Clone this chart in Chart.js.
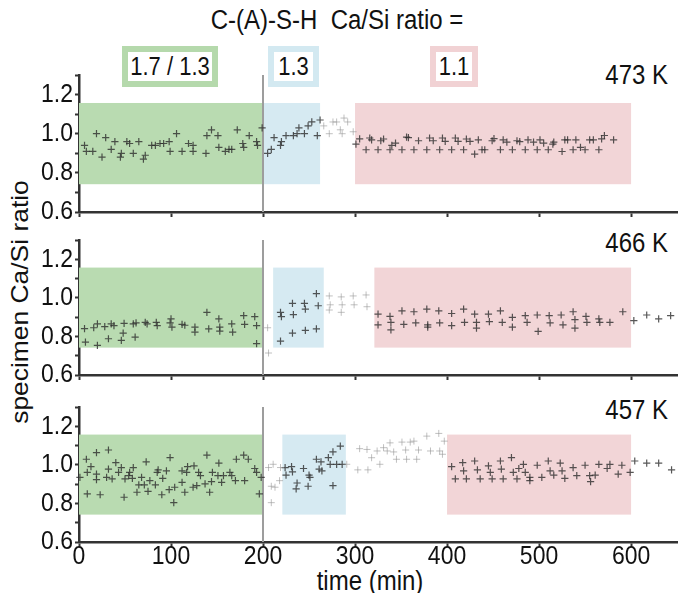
<!DOCTYPE html>
<html>
<head>
<meta charset="utf-8">
<script src="https://cdn.jsdelivr.net/npm/chart.js@4.4.1/dist/chart.umd.min.js"></script>
<style>
  body { margin: 0; background: #fff; overflow: hidden; }
  #wrap { position: relative; width: 678px; height: 593px; font-family: "Liberation Sans", Arial, sans-serif; color: #111; }
  #wrap canvas { position: absolute; left: 0; }
  .txt { position: absolute; white-space: nowrap; font-size: 24px; line-height: 1; }
  .box { position: absolute; top: 46px; height: 41px; box-sizing: border-box; border: 6px solid; background: #fff;
         display: flex; align-items: center; justify-content: center; font-size: 22px; }
  .box span { display: inline-block; transform: scaleY(1.15); }
</style>
</head>
<body>
<div id="wrap">
  <div class="txt" style="left:337px; top:20px; transform:translate(-50%,-50%) scaleY(1.15);">C-(A)-S-H&nbsp; Ca/Si ratio =</div>
  <div class="box" style="left:122px; width:96px;"><span id="box0"></span></div>
  <div class="box" style="left:268px; width:51px;"><span id="box1"></span></div>
  <div class="box" style="left:430px; width:48px;"><span id="box2"></span></div>
  <div class="txt" id="k0" style="right:10px; top:75px; transform:translateY(-50%) scaleY(1.15);"></div>
  <div class="txt" id="k1" style="right:10px; top:243px; transform:translateY(-50%) scaleY(1.15);"></div>
  <div class="txt" id="k2" style="right:10px; top:410px; transform:translateY(-50%) scaleY(1.15);"></div>
  <div class="txt" style="left:20px; top:302px; transform:translate(-50%,-50%) rotate(-90deg) scaleX(1.1);">specimen Ca/Si ratio</div>
  <div class="txt" style="left:370px; top:581px; transform:translate(-50%,-50%) scaleY(1.15);">time (min)</div>
  <canvas id="c473" width="678" height="157" style="top:65px"></canvas>
  <canvas id="c466" width="678" height="155" style="top:230px"></canvas>
  <canvas id="c457" width="678" height="175" style="top:397px"></canvas>
</div>
<script>
// phase labels and colours
const phaseNames = ["1.7 / 1.3", "1.3", "1.1"];
const phaseColors = ["#b9dbb1", "#d6eaf2", "#f2d5d7"];
const phaseBorders = ["#b5d9ac", "#d3e9f1", "#f1d2d4"];
const temps = ["473 K", "466 K", "457 K"];
const bandLow = 0.742;
const bandHigh = 1.157;
const splitTime = 200;
const xTickLabels = ["0", "100", "200", "300", "400", "500", "600"];
const yTickLabels = ["0.6", "0.8", "1.0", "1.2"];

// phase windows (min) per temperature
const start473 = [0, 200, 300];
const end473 = [200, 262, 600];
const start466 = [0, 211, 321];
const end466 = [200, 266, 600];
const start457 = [0, 221, 400];
const end457 = [200, 290, 600];

// 473 K
const t473 = [6, 8, 15, 19, 25, 29, 35, 39, 45, 46, 52, 55, 59, 65, 70, 72, 79, 83, 88, 92, 98, 99, 106, 112, 119, 124, 124, 138, 139, 144, 151, 152, 159, 163, 166, 172, 178, 179, 185, 193, 194, 199,
  205, 209, 212, 219, 220, 225, 233, 237, 239, 245, 249, 253, 259, 262,
  301, 305, 312, 316, 318, 325, 328, 331, 338, 340, 344, 351, 356, 358, 364, 369, 378, 381, 385, 392, 395, 398, 405, 409, 412, 418, 421, 425, 430, 434, 438, 441, 449, 451,
  458, 461, 465, 471, 476, 479, 485, 488, 494, 498, 501, 505, 510, 515, 516, 525, 528, 531, 537, 540, 545, 550, 555, 559, 565, 568, 571, 581];
const r473 = [0.94, 0.91, 0.91, 1.00, 0.88, 0.98, 0.92, 0.96, 0.88, 0.90, 0.96, 0.95, 0.90, 0.96, 0.87, 0.89, 0.94, 0.94, 0.95, 0.95, 0.96, 0.91, 1.00, 0.91, 0.95, 0.94, 0.91, 0.90, 0.99, 1.02, 0.99, 0.93, 0.91, 0.92, 0.92, 1.02, 0.95, 0.93, 0.99, 0.96, 0.94, 1.03,
  0.90, 0.92, 0.98, 0.94, 0.96, 0.99, 0.99, 1.00, 1.03, 1.00, 1.04, 1.06, 0.99, 1.07,
  0.947, 0.974, 0.918, 0.978, 0.969, 0.918, 0.964, 0.973, 0.918, 0.94, 0.952, 0.918, 0.983, 0.98, 0.918, 0.964, 0.918, 0.978, 0.964, 0.918, 0.978, 0.961, 0.918, 0.978, 0.961, 0.918, 0.973, 0.961, 0.896, 0.969, 0.918, 0.918, 0.964, 0.975,
  0.918, 0.969, 0.957, 0.918, 0.964, 0.96, 0.918, 0.969, 0.957, 0.918, 0.969, 0.952, 0.918, 0.947, 0.957, 0.909, 0.969, 0.969, 0.918, 0.969, 0.93, 0.918, 0.969, 0.969, 0.918, 0.974, 0.991, 0.969];
const t473Trans = [266, 272, 276, 280, 284, 286, 288, 292, 298];
const r473Trans = [1.04, 1.00, 1.06, 1.06, 1.02, 1.00, 1.08, 1.06, 1.01];

// 466 K
const t466 = [6, 7, 16, 20, 20, 28, 32, 35, 38, 46, 48, 49, 59, 61, 62, 72, 74, 84, 85, 99, 100, 101, 112, 115, 126, 126, 139, 141, 152, 153, 153, 166, 167, 179, 180, 191, 193, 193,
  219, 220, 219, 232, 233, 232, 245, 246, 246, 258, 260, 258,
  325, 325, 338, 339, 339, 351, 353, 364, 366, 378, 379, 379, 391, 392, 405, 405, 418, 419, 430, 432, 432, 445, 446, 458, 460, 471, 471, 485, 487, 498, 499, 511, 512, 524, 526, 537, 539, 539, 551, 552, 565, 566, 577, 591,
  603, 617, 630, 643];
const r466 = [0.84, 0.77, 0.845, 0.865, 0.754, 0.851, 0.788, 0.865, 0.856, 0.78, 0.817, 0.868, 0.865, 0.796, 0.87, 0.873, 0.865, 0.873, 0.856, 0.87, 0.891, 0.848, 0.862, 0.858, 0.848, 0.822, 0.925, 0.839, 0.891, 0.848, 0.827, 0.865, 0.822, 0.908, 0.862, 0.903, 0.856, 0.763,
  0.925, 0.903, 0.776, 0.971, 0.913, 0.817, 0.971, 0.942, 0.831, 1.022, 0.959, 0.839,
  0.916, 0.86, 0.904, 0.873, 0.834, 0.933, 0.862, 0.928, 0.87, 0.942, 0.86, 0.848, 0.933, 0.87, 0.919, 0.856, 0.942, 0.873, 0.916, 0.873, 0.843, 0.916, 0.877, 0.933, 0.873, 0.899, 0.848, 0.908, 0.873, 0.911, 0.826, 0.908, 0.87, 0.911, 0.86, 0.928, 0.887, 0.843, 0.904, 0.873, 0.891, 0.873, 0.873, 0.928,
  0.882, 0.911, 0.891, 0.908];
const t466Trans = [205, 206, 272, 273, 272, 285, 286, 285, 298, 299, 312, 313];
const r466Trans = [0.845, 0.714, 1.01, 0.964, 0.937, 1.005, 0.964, 0.925, 1.01, 0.964, 1.015, 0.954];

// 457 K
const t457 = [1, 8, 9, 9, 13, 19, 19, 19, 23, 30, 32, 32, 36, 40, 43, 46, 49, 50, 54, 55, 58, 59, 63, 65, 68, 71, 73, 75, 77, 83, 85, 86, 91, 90, 95, 99, 98, 103, 104, 112, 112, 115, 117, 118, 124, 125, 128, 130, 132, 137, 139, 142, 144, 145, 152, 151, 155, 157, 164, 166, 170, 171, 179, 180, 184, 191, 193, 196, 198,
  224, 225, 231, 232, 237, 236, 244, 249, 250, 251, 258, 261, 263, 264, 271, 273, 276, 276, 284, 280, 286,
  405, 409, 417, 418, 421, 430, 433, 436, 445, 447, 449, 458, 459, 461, 470, 472, 476, 478, 483, 485, 490, 490, 498, 503, 510, 512, 516, 523, 525, 528, 537, 541, 550, 555, 556, 561, 565, 574, 577, 586, 590, 599,
  604, 617, 630, 644];
const r457 = [0.935, 1.029, 0.961, 0.85, 0.991, 1.063, 0.952, 0.923, 0.845, 0.935, 1.077, 0.978, 0.927, 1.012, 0.961, 0.986, 0.832, 0.927, 0.944, 0.961, 0.93, 0.986, 0.858, 0.896, 0.935, 0.896, 1.015, 0.862, 0.918, 0.896, 0.961, 0.974, 0.93, 0.845, 0.969, 1.037, 0.872, 0.804, 0.884, 0.909, 0.969, 0.858, 0.961, 0.991, 0.884, 0.995, 0.892, 0.961, 0.944, 0.901, 1.05, 0.858, 0.913, 0.961, 1.009, 0.944, 0.909, 0.944, 0.961, 0.944, 0.918, 1.029, 1.05, 0.918, 1.029, 0.981, 0.961, 0.85, 0.935,
  0.986, 0.947, 0.991, 0.964, 0.906, 0.875, 0.981, 0.889, 0.947, 0.935, 1.029, 0.978, 1.015, 0.969, 1.037, 1.003, 1.067, 0.892, 1.097, 1.003, 1.003,
  0.991, 0.927, 1.012, 0.969, 0.927, 1.02, 0.974, 0.927, 0.995, 0.961, 0.927, 1.02, 0.978, 0.927, 1.037, 0.961, 0.927, 0.981, 1.003, 0.961, 0.935, 0.918, 0.998, 0.935, 1.02, 0.969, 0.947, 1.009, 0.969, 0.93, 0.986, 0.944, 0.998, 0.944, 0.913, 0.947, 1.003, 0.981, 1.003, 0.952, 0.998, 0.961,
  1.02, 1.009, 1.009, 0.974];
const t457Trans = [206, 211, 209, 213, 209, 218, 219, 291, 303, 305, 313, 314, 318, 324, 327, 331, 335, 338, 342, 345, 351, 355, 356, 360, 364, 369, 367, 378, 382, 391, 392, 397, 395];
const r457Trans = [0.986, 1.003, 0.889, 0.884, 0.804, 0.918, 0.986, 1.003, 0.974, 1.084, 1.08, 0.974, 1.037, 1.072, 1.003, 1.089, 1.072, 1.114, 1.067, 1.029, 1.118, 1.077, 1.029, 1.118, 1.123, 1.077, 1.029, 1.149, 1.072, 1.163, 1.072, 1.123, 1.055];

const panelIds = ["c473", "c466", "c457"];
const panelData = [
  [t473, r473, t473Trans, r473Trans, start473, end473],
  [t466, r466, t466Trans, r466Trans, start466, end466],
  [t457, r457, t457Trans, r457Trans, start457, end457],
];

// labels
phaseNames.forEach((name, i) => {
  const el = document.getElementById("box" + i);
  el.textContent = name;
  el.parentNode.style.borderColor = phaseBorders[i];
});
temps.forEach((name, i) => {
  document.getElementById("k" + i).textContent = name;
});

// shaded phase windows and the 200 min marker line
const phaseBands = {
  id: "phaseBands",
  beforeDatasetsDraw(chart, args, opts) {
    const { ctx, chartArea, scales } = chart;
    const x = scales.x;
    const y = scales.y;
    ctx.save();
    opts.starts.forEach((s, i) => {
      const x0 = x.getPixelForValue(s);
      const x1 = x.getPixelForValue(opts.ends[i]);
      const y0 = y.getPixelForValue(bandHigh);
      const y1 = y.getPixelForValue(bandLow);
      ctx.fillStyle = phaseColors[i];
      ctx.fillRect(x0, y0, x1 - x0, y1 - y0);
    });
    const xs = x.getPixelForValue(splitTime);
    ctx.strokeStyle = "#9d9d9d";
    ctx.lineWidth = 2;
    ctx.beginPath();
    ctx.moveTo(xs, chartArea.top);
    ctx.lineTo(xs, chartArea.bottom);
    ctx.stroke();
    ctx.restore();
  },
};

// tick labels, a bit taller than wide like the original figure
const tallLabels = {
  id: "tallLabels",
  afterDraw(chart, args, opts) {
    const { ctx, scales } = chart;
    ctx.save();
    ctx.fillStyle = "#111";
    ctx.font = "23px 'Liberation Sans', Arial, sans-serif";
    ctx.textBaseline = "middle";
    ctx.textAlign = "right";
    yTickLabels.forEach((lbl) => {
      const py = scales.y.getPixelForValue(parseFloat(lbl));
      ctx.save();
      ctx.translate(scales.y.right - 6, py);
      ctx.scale(1, 1.15);
      ctx.fillText(lbl, 0, 0);
      ctx.restore();
    });
    if (opts.showX) {
      ctx.textAlign = "center";
      xTickLabels.forEach((lbl) => {
        const px = scales.x.getPixelForValue(parseFloat(lbl));
        ctx.save();
        ctx.translate(px, scales.x.top + 15);
        ctx.scale(1, 1.15);
        ctx.fillText(lbl, 0, 0);
        ctx.restore();
      });
    }
    ctx.restore();
  },
};

function toPoints(xs, ys) {
  return xs.map((v, i) => ({ x: v, y: ys[i] }));
}

function makePanel(idx) {
  const [tMain, rMain, tTrans, rTrans, starts, ends] = panelData[idx];
  const isBottom = idx === panelData.length - 1;
  new Chart(document.getElementById(panelIds[idx]), {
    type: "scatter",
    data: {
      datasets: [
        {
          data: toPoints(tTrans, rTrans),
          pointStyle: "cross",
          pointRadius: 3.5,
          borderWidth: 1,
          borderColor: "rgba(150,150,150,0.6)",
          clip: false,
        },
        {
          data: toPoints(tMain, rMain),
          pointStyle: "cross",
          pointRadius: 3.6,
          borderWidth: 1.2,
          borderColor: "rgba(45,45,45,0.8)",
          clip: false,
        },
      ],
    },
    options: {
      responsive: false,
      animation: false,
      events: [],
      layout: { autoPadding: false, padding: { top: 10, right: 0, left: 0, bottom: 0 } },
      plugins: {
        legend: { display: false },
        tooltip: { enabled: false },
        phaseBands: { starts, ends },
        tallLabels: { showX: isBottom },
      },
      scales: {
        x: {
          type: "linear",
          min: 0,
          max: 651,
          border: { color: "#333", width: 2.5 },
          grid: { drawOnChartArea: false, drawTicks: true, tickLength: 5, tickColor: "#333", tickWidth: 2 },
          ticks: { display: false, stepSize: 100, includeBounds: false },
          afterFit(scale) {
            scale.height = isBottom ? 30 : 10;
          },
        },
        y: {
          min: 0.6,
          max: 1.3,
          border: { color: "#333", width: 2.5 },
          grid: { drawOnChartArea: false, drawTicks: true, tickLength: 4, tickColor: "#333", tickWidth: 2 },
          ticks: { display: false, stepSize: 0.1 },
          afterFit(scale) {
            scale.width = 79;
          },
        },
      },
    },
    plugins: [phaseBands, tallLabels],
  });
}

panelIds.forEach((id, i) => makePanel(i));
</script>
</body>
</html>
